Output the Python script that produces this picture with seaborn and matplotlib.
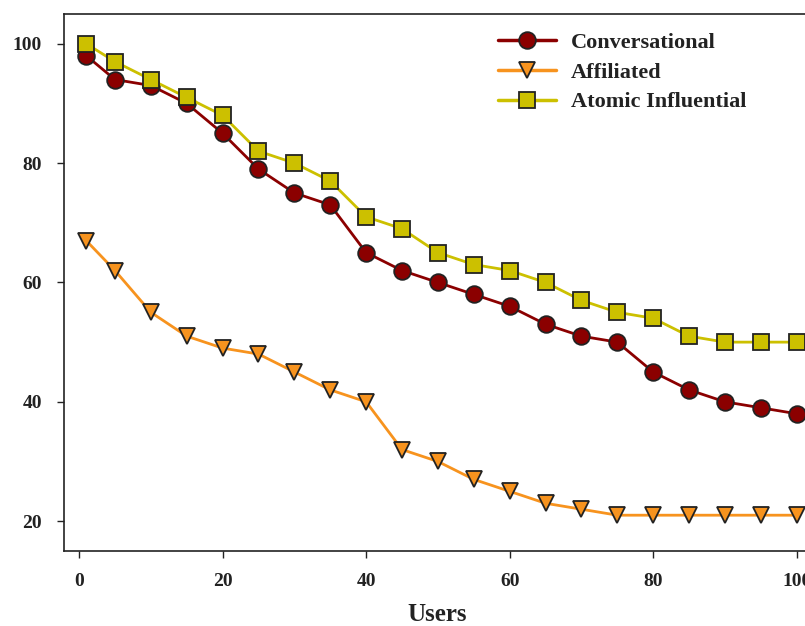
import pandas as pd
import matplotlib
matplotlib.use("Agg")
import matplotlib.pyplot as plt
from matplotlib.font_manager import FontProperties
import seaborn as sns

# ==========================
# Data
# ==========================
users = [1, 5, 10, 15, 20, 25, 30, 35, 40, 45, 50,
         55, 60, 65, 70, 75, 80, 85, 90, 95, 100]
conversational = [98, 94, 93, 90, 85, 79, 75, 73, 65, 62, 60,
                  58, 56, 53, 51, 50, 45, 42, 40, 39, 38]
affiliated = [67, 62, 55, 51, 49, 48, 45, 42, 40, 32, 30,
              27, 25, 23, 22, 21, 21, 21, 21, 21, 21]
atomic_influential = [100, 97, 94, 91, 88, 82, 80, 77, 71, 69, 65,
                      63, 62, 60, 57, 55, 54, 51, 50, 50, 50]

series_names = ["Conversational", "Affiliated", "Atomic Influential"]
series_values = [conversational, affiliated, atomic_influential]

df = pd.concat(
    [pd.DataFrame({"Users": users, "Value": vals, "Series": name})
     for name, vals in zip(series_names, series_values)],
    ignore_index=True,
)

# ==========================
# Style
# ==========================
sns.set_theme(style="ticks")
plt.rcParams["font.family"] = ["Liberation Serif", "DejaVu Serif"]
plt.rcParams["font.weight"] = "bold"

tick_font = FontProperties(family="Liberation Serif", weight="bold", size=14)
legend_font = FontProperties(family="Liberation Serif", weight="bold", size=16)
label_font = FontProperties(family="Liberation Serif", weight="bold", size=18)

palette = {"Conversational": "#8B0000",
           "Affiliated": "#F7931E",
           "Atomic Influential": "#CCC000"}
markers = {"Conversational": "o",
           "Affiliated": "v",
           "Atomic Influential": "s"}

fig = plt.figure(figsize=(8.05, 6.26), dpi=100)
ax = fig.add_axes([0.0795, 0.1198, 0.928, 0.858])

sns.lineplot(
    data=df, x="Users", y="Value", hue="Series", style="Series",
    palette=palette, markers=markers, dashes=False,
    markersize=12, markeredgecolor="#222222", markeredgewidth=1.3,
    linewidth=2, ax=ax, legend="full",
)

ax.set_xlim(-2.1, 102)
ax.set_ylim(15, 105)
ax.set_xticks([0, 20, 40, 60, 80, 100])
ax.set_yticks([20, 40, 60, 80, 100])
ax.tick_params(axis="both", direction="out", length=5, width=1,
               colors="#222222", pad=11)
for lab in ax.get_xticklabels() + ax.get_yticklabels():
    lab.set_fontproperties(tick_font)

for side in ["left", "bottom", "top", "right"]:
    ax.spines[side].set_linewidth(1.2)
    ax.spines[side].set_color("#222222")

ax.set_xlabel("Users", fontproperties=label_font, color="#222222",
              labelpad=9)
ax.set_ylabel("")

handles, labels = ax.get_legend_handles_labels()
leg = ax.legend(handles, labels, loc="upper left",
                bbox_to_anchor=(0.56, 0.995), frameon=False,
                prop=legend_font,
                handlelength=2.6, handletextpad=0.7,
                labelspacing=0.42, borderaxespad=0.3)
for h in leg.legend_handles:
    h.set_linewidth(2.5)
for t in leg.get_texts():
    t.set_color("#222222")

fig.savefig("out.png", dpi=100)
plt.close(fig)
